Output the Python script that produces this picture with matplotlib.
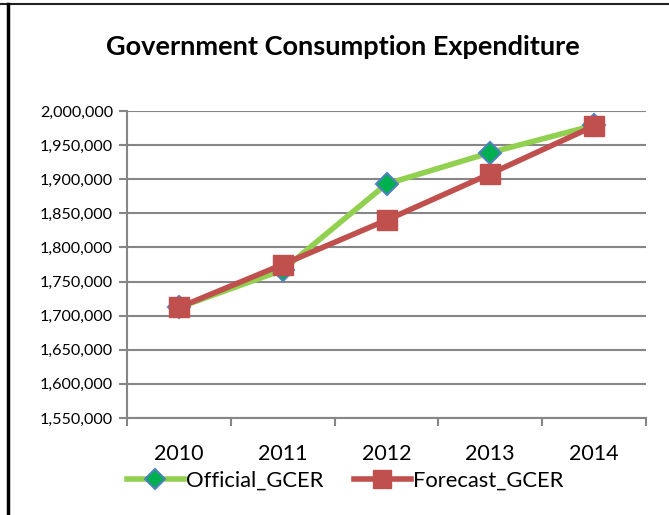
import numpy as np
import matplotlib.pyplot as plt
from matplotlib.lines import Line2D
from matplotlib.ticker import FuncFormatter, MultipleLocator

plt.rcParams['font.family'] = ['Lato', 'DejaVu Sans']

years = ['2010', '2011', '2012', '2013', '2014']
official_gcer = [1712000, 1767000, 1893000, 1939000, 1979000]
forecast_gcer = [1712000, 1775000, 1840000, 1908000, 1978000]

W, H = 669, 515
fig = plt.figure(figsize=(W / 100, H / 100), dpi=100)

# plot area in pixel units
left, right, top, bottom = 127, 646, 111, 418
ax = fig.add_axes([left / W, 1 - bottom / H, (right - left) / W, (bottom - top) / H])

x = np.arange(len(years))
ax.plot(x, official_gcer, color='#92D050', lw=4, marker='D', ms=11,
        markerfacecolor='#00B050', markeredgecolor='#4F81BD', mew=1.5,
        label='Official_GCER', zorder=3)
ax.plot(x, forecast_gcer, color='#C0504D', lw=4, marker='s', ms=14,
        markerfacecolor='#C0504D', markeredgecolor='#C0504D',
        label='Forecast_GCER', zorder=4)

ax.set_xlim(-0.5, len(years) - 0.5)
ax.set_ylim(1550000, 2000000)
ax.yaxis.set_major_locator(MultipleLocator(50000))
ax.yaxis.set_major_formatter(FuncFormatter(lambda v, p: f'{v:,.0f}'))
ax.grid(axis='y', color='#868686', lw=1.5)
ax.set_axisbelow(True)

# category labels at centres, tick marks between categories
ax.set_xticks(x)
ax.set_xticklabels(years, fontsize=15.5)
ax.tick_params(axis='x', which='major', length=0, pad=19, colors='black')
ax.set_xticks(np.arange(-0.5, len(years)), minor=True)
ax.tick_params(axis='x', which='minor', length=6, width=1.5, color='#868686')
ax.tick_params(axis='y', length=6, width=1.5, color='#868686', labelsize=11.6, pad=4)

for s in ['top', 'right']:
    ax.spines[s].set_visible(False)
for s in ['left', 'bottom']:
    ax.spines[s].set_color('#868686')
    ax.spines[s].set_linewidth(1.5)

fig.text(343 / W, 1 - 47 / H, 'Government Consumption Expenditure',
         ha='center', va='center', fontsize=19.5, fontweight='bold')

fig.legend(loc='center', bbox_to_anchor=(345 / W, 1 - 481 / H), ncol=2,
           frameon=False, fontsize=15.8, handlelength=2.6, handletextpad=0.1,
           columnspacing=1.4, markerscale=0.9)

# outer frame lines
fig.add_artist(Line2D([0, 1], [1 - 4 / H, 1 - 4 / H], color='#222222', lw=1.5))
fig.add_artist(Line2D([8 / W, 8 / W], [0, 1 - 4 / H], color='black', lw=2.5))

fig.savefig('out.png', dpi=100)
